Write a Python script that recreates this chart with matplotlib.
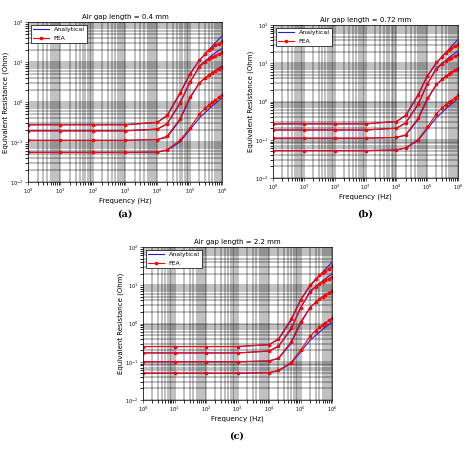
import matplotlib
matplotlib.use("Agg")
import matplotlib.pyplot as plt
import numpy as np

freq = [1, 10, 100, 1e3, 1e4, 2e4, 5e4, 1e5, 2e5, 5e5, 1e6]
fea_freq = [1, 10, 100, 1e3, 1e4, 2e4, 5e4, 1e5, 2e5, 3e5, 4e5, 5e5, 6e5, 8e5, 1e6]

titles = ["Air gap length = 0.4 mm", "Air gap length = 0.72 mm", "Air gap length = 2.2 mm"]
panel_labels = ["(a)", "(b)", "(c)"]

ana_a = [[0.27]*4 + [0.31, 0.45, 1.6, 4.8, 11, 25, 45],
         [0.19]*4 + [0.21, 0.28, 0.9, 3.0, 8, 15, 22],
         [0.11]*4 + [0.115, 0.13, 0.35, 1.2, 3, 5.5, 8],
         [0.055]*4 + [0.056, 0.062, 0.1, 0.2, 0.4, 0.8, 1.25]]
fea_a = [[0.27]*4 + [0.31, 0.47, 1.7, 5.0, 11, 16, 20, 23, 26, 29, 33],
         [0.19]*4 + [0.21, 0.29, 0.95, 3.1, 7.5, 10, 12, 13.5, 14.5, 16, 17.5],
         [0.11]*4 + [0.115, 0.14, 0.38, 1.3, 3.0, 4.0, 4.8, 5.4, 6.0, 6.8, 7.5],
         [0.055]*4 + [0.056, 0.064, 0.11, 0.22, 0.5, 0.7, 0.85, 1.0, 1.1, 1.3, 1.5]]
ana_b = [[0.26]*4 + [0.30, 0.42, 1.4, 4.5, 10, 23, 42],
         [0.18]*4 + [0.20, 0.27, 0.8, 2.8, 7.5, 14, 21],
         [0.11]*4 + [0.115, 0.13, 0.33, 1.1, 2.8, 5.2, 7.5],
         [0.052]*4 + [0.054, 0.06, 0.095, 0.19, 0.38, 0.75, 1.2]]
fea_b = [[0.26]*4 + [0.30, 0.44, 1.5, 4.7, 10.5, 15, 19, 22, 25, 28, 32],
         [0.18]*4 + [0.20, 0.28, 0.85, 2.9, 7.0, 9.5, 11.5, 13, 14, 15.5, 17],
         [0.11]*4 + [0.115, 0.135, 0.36, 1.2, 2.8, 3.8, 4.6, 5.2, 5.8, 6.5, 7.2],
         [0.052]*4 + [0.054, 0.062, 0.1, 0.21, 0.48, 0.68, 0.82, 0.95, 1.05, 1.25, 1.45]]
ana_c = [[0.25]*4 + [0.28, 0.38, 1.2, 4.0, 9.5, 22, 40],
         [0.17]*4 + [0.19, 0.25, 0.7, 2.5, 7.0, 13, 20],
         [0.10]*4 + [0.105, 0.12, 0.3, 1.0, 2.6, 5.0, 7.2],
         [0.05]*4 + [0.052, 0.058, 0.09, 0.18, 0.36, 0.7, 1.1]]
fea_c = [[0.25]*4 + [0.28, 0.40, 1.3, 4.2, 10, 14.5, 18, 21, 24, 27, 31],
         [0.17]*4 + [0.19, 0.26, 0.75, 2.6, 6.5, 9.0, 11, 12.5, 13.5, 15, 16.5],
         [0.10]*4 + [0.105, 0.125, 0.33, 1.1, 2.6, 3.6, 4.4, 5.0, 5.6, 6.3, 7.0],
         [0.05]*4 + [0.052, 0.06, 0.095, 0.2, 0.46, 0.65, 0.8, 0.92, 1.02, 1.2, 1.4]]

W, H = 474, 451
fig = plt.figure(figsize=(W/100, H/100), dpi=100)
rects = [(28, 22, 222, 182), (273, 25, 458, 178), (143, 247, 332, 400)]
label_pos = [(125, 214), (365, 214), (237, 436)]
data = [(ana_a, fea_a), (ana_b, fea_b), (ana_c, fea_c)]

for i, (x0, y0, x1, y1) in enumerate(rects):
    ax = fig.add_axes([x0/W, 1 - y1/H, (x1-x0)/W, (y1-y0)/H])
    ax.set_xscale("log"); ax.set_yscale("log")
    ax.set_xlim(1, 1e6); ax.set_ylim(1e-2, 1e2)
    ax.grid(True, which="both", color="black", linewidth=0.35)
    ana, fea = data[i]
    for k in range(4):
        ax.plot(freq, ana[k], color="#2020d0", lw=0.8,
                label="Analytical" if k == 0 else None)
        ax.plot(fea_freq, fea[k], color="red", lw=0.8, marker="o", ms=1.6,
                label="FEA" if k == 0 else None)
    ax.tick_params(labelsize=3.5, length=2, width=0.4, pad=1.5)
    ax.set_xticks([10.0**p for p in range(7)])
    ax.set_yticks([10.0**p for p in range(-2, 3)])
    ax.set_title(titles[i], fontsize=5, pad=2)
    ax.set_xlabel("Frequency (Hz)", fontsize=5, labelpad=1)
    ax.set_ylabel("Equivalent Resistance (Ohm)", fontsize=5, labelpad=1)
    leg = ax.legend(loc="upper left", fontsize=4.5, frameon=True, fancybox=False,
                    edgecolor="black", framealpha=1, borderpad=0.3, handlelength=2.5)
    leg.get_frame().set_linewidth(0.5)
    for s in ax.spines.values():
        s.set_linewidth(0.5)
    fig.text(label_pos[i][0]/W, 1 - label_pos[i][1]/H, panel_labels[i],
             ha="center", va="center", fontsize=7, family="DejaVu Serif", weight="bold")

fig.savefig("out.png", dpi=100)
